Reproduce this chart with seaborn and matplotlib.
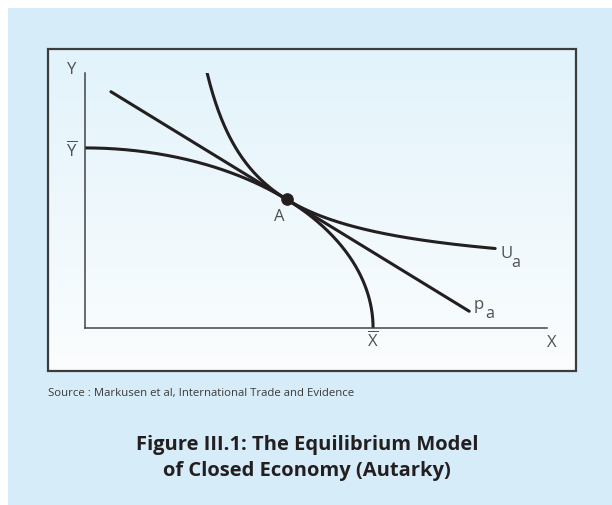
import numpy as np
import pandas as pd
import matplotlib
matplotlib.use("Agg")
import matplotlib.pyplot as plt
import seaborn as sns
from matplotlib.patches import Rectangle

# ---- data (diagram parameters) ----
X_BAR = 8.0          # PPF intercept on X axis
Y_BAR = 5.0          # PPF intercept on Y axis
A_X = 5.6            # equilibrium point A (x)
U_SHIFT_X = 2.0      # indifference curve asymptote (x)
U_SHIFT_Y = 1.36     # indifference curve asymptote (y)
U_RANGE = [3.39, 11.39]
P_RANGE = [0.72, 10.67]
X_MAX = 12.83
Y_MAX = 7.08
labels = {"Y": "Y", "X": "X", "Ybar": r"$\overline{\mathrm{Y}}$",
          "Xbar": r"$\overline{\mathrm{X}}$", "A": "A"}
curve_labels = [("U", "a"), ("p", "a")]
source_text = "Source : Markusen et al, International Trade and Evidence"
title_lines = ["Figure III.1: The Equilibrium Model", "of Closed Economy (Autarky)"]

sns.set_style("white")
plt.rcParams['font.family'] = ['Open Sans', 'DejaVu Sans']
plt.rcParams['mathtext.fontset'] = 'custom'
plt.rcParams['mathtext.rm'] = 'Open Sans'
plt.rcParams['mathtext.it'] = 'Open Sans'

W, H = 612, 506
fig = plt.figure(figsize=(W / 100, H / 100), dpi=100)
fig.patch.set_facecolor("white")

# background panel
bg = fig.add_axes([0, 0, 1, 1], zorder=-5)
bg.set_xlim(0, W); bg.set_ylim(H, 0); bg.axis("off")
bg.add_patch(Rectangle((8, 9), W - 8, H - 9, facecolor="#d6ecf9", edgecolor="none"))
grad = np.linspace(0, 1, 256).reshape(-1, 1)
cmap = matplotlib.colors.LinearSegmentedColormap.from_list("g", ["#e2f3fb", "#fbfdfe"])
bg.imshow(grad, extent=(48, 576, 372, 50), cmap=cmap, aspect="auto", zorder=1)
bg.add_patch(Rectangle((48, 50), 528, 322, facecolor="none", edgecolor="#3c3c3c", lw=1.6, zorder=2))

# diagram axes
ax = fig.add_axes([85 / W, (H - 329) / H, (547 - 85) / W, (329 - 74) / H])
ax.set_facecolor("none")
ax.set_xlim(0, X_MAX); ax.set_ylim(0, Y_MAX)
sns.despine(ax=ax)
for s in ["left", "bottom"]:
    ax.spines[s].set_color("#444444"); ax.spines[s].set_linewidth(1.1)
ax.set_xticks([]); ax.set_yticks([])

col = "#231f20"
# PPF
t = np.linspace(0, np.pi / 2, 300)
ppf = pd.DataFrame({"x": X_BAR * np.cos(t), "y": Y_BAR * np.sin(t)})
sns.lineplot(data=ppf, x="x", y="y", sort=False, estimator=None, color=col, lw=2.2, ax=ax)
A_Y = Y_BAR * np.sqrt(1 - (A_X / X_BAR) ** 2)
slope = -(Y_BAR ** 2 * A_X) / (X_BAR ** 2 * A_Y)
# price line
px = np.array(P_RANGE)
pl = pd.DataFrame({"x": px, "y": A_Y + slope * (px - A_X)})
sns.lineplot(data=pl, x="x", y="y", color=col, lw=2.2, ax=ax)
# indifference curve
k = (A_X - U_SHIFT_X) * (A_Y - U_SHIFT_Y)
ux = np.linspace(U_RANGE[0], U_RANGE[1], 300)
ic = pd.DataFrame({"x": ux, "y": U_SHIFT_Y + k / (ux - U_SHIFT_X)})
sns.lineplot(data=ic, x="x", y="y", color=col, lw=2.2, ax=ax)
sns.scatterplot(x=[A_X], y=[A_Y], s=70, color=col, edgecolor=col, ax=ax, zorder=5)
ax.set_xlabel(""); ax.set_ylabel("")

lc = "#505050"
fs = 12
kw = dict(clip_on=False, color=lc)
def px2d(x, y):
    return (x - 85) / 36.0, (329 - y) / 36.0
ax.text(*px2d(72, 70), labels["Y"], ha="center", va="center", fontsize=fs, **kw)
ax.text(*px2d(72, 150), labels["Ybar"], ha="center", va="center", fontsize=fs, **kw)
ax.text(*px2d(373, 340), labels["Xbar"], ha="center", va="center", fontsize=fs, **kw)
ax.text(*px2d(552, 343), labels["X"], ha="center", va="center", fontsize=fs, **kw)
ax.text(*px2d(279, 217), labels["A"], ha="center", va="center", fontsize=fs, **kw)
# curve labels with lowered subscripts
for (main, sub), (lx, ly) in zip(curve_labels, [(500, 254), (474, 305)]):
    ax.text(*px2d(lx, ly), main, ha="left", va="center", fontsize=fs, **kw)
    ax.text(*px2d(lx + 11, ly + 9), sub, ha="left", va="center", fontsize=11.5, **kw)

fig.text(48 / W, 1 - 394 / H, source_text, ha="left", va="center", fontsize=8.2, color="#3a3a3a")
fig.text(307 / W, 1 - 445 / H, title_lines[0], ha="center", va="center", fontsize=14.5,
         fontweight="bold", color="#231f20")
fig.text(307 / W, 1 - 471 / H, title_lines[1], ha="center", va="center", fontsize=14.5,
         fontweight="bold", color="#231f20")

fig.savefig("out.png", dpi=100)
